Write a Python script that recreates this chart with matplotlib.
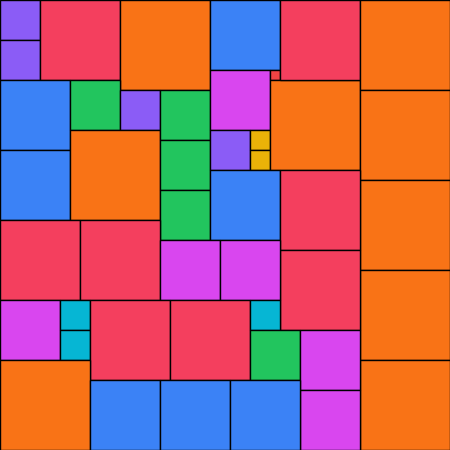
import matplotlib
matplotlib.use("Agg")
import matplotlib.pyplot as plt
from matplotlib.patches import Rectangle

# square packing: left, top, side (pixels, y grows downward)
xs = [0, 0, 40, 120, 0, 0, 70, 120, 70, 160, 160, 160,
      210, 210, 270, 210, 250, 250, 270, 280,
      360, 360, 360, 360, 360,
      210, 280, 280, 0, 80, 160, 220,
      0, 60, 60, 90, 170, 250, 250, 300, 300,
      0, 90, 160, 230]
ys = [0, 40, 0, 0, 80, 150, 80, 90, 130, 90, 140, 190,
      0, 70, 70, 130, 130, 150, 80, 0,
      0, 90, 180, 270, 360,
      170, 170, 250, 220, 220, 240, 240,
      300, 300, 330, 300, 300, 300, 330, 330, 390,
      360, 380, 380, 380]
sizes = [40, 40, 80, 90, 70, 70, 50, 40, 90, 50, 50, 50,
         70, 60, 10, 40, 20, 20, 90, 80,
         90, 90, 90, 90, 90,
         70, 80, 80, 80, 80, 60, 60,
         60, 30, 30, 80, 80, 30, 50, 60, 60,
         90, 70, 70, 70]

size_colors = {10: "#ef4444", 20: "#eab308", 30: "#06b6d4", 40: "#8b5cf6",
               50: "#22c55e", 60: "#d946ef", 70: "#3b82f6", 80: "#f43f5e",
               90: "#f97316"}

fig = plt.figure(figsize=(4.5, 4.5), dpi=100)
ax = fig.add_axes([0, 0, 1, 1])
for x, y, s in zip(xs, ys, sizes):
    ax.add_patch(Rectangle((x, y), s, s, facecolor=size_colors[s],
                           edgecolor="black", linewidth=1.0))
ax.set_xlim(0, 450)
ax.set_ylim(450, 0)
ax.axis("off")
fig.savefig("out.png", dpi=100)
